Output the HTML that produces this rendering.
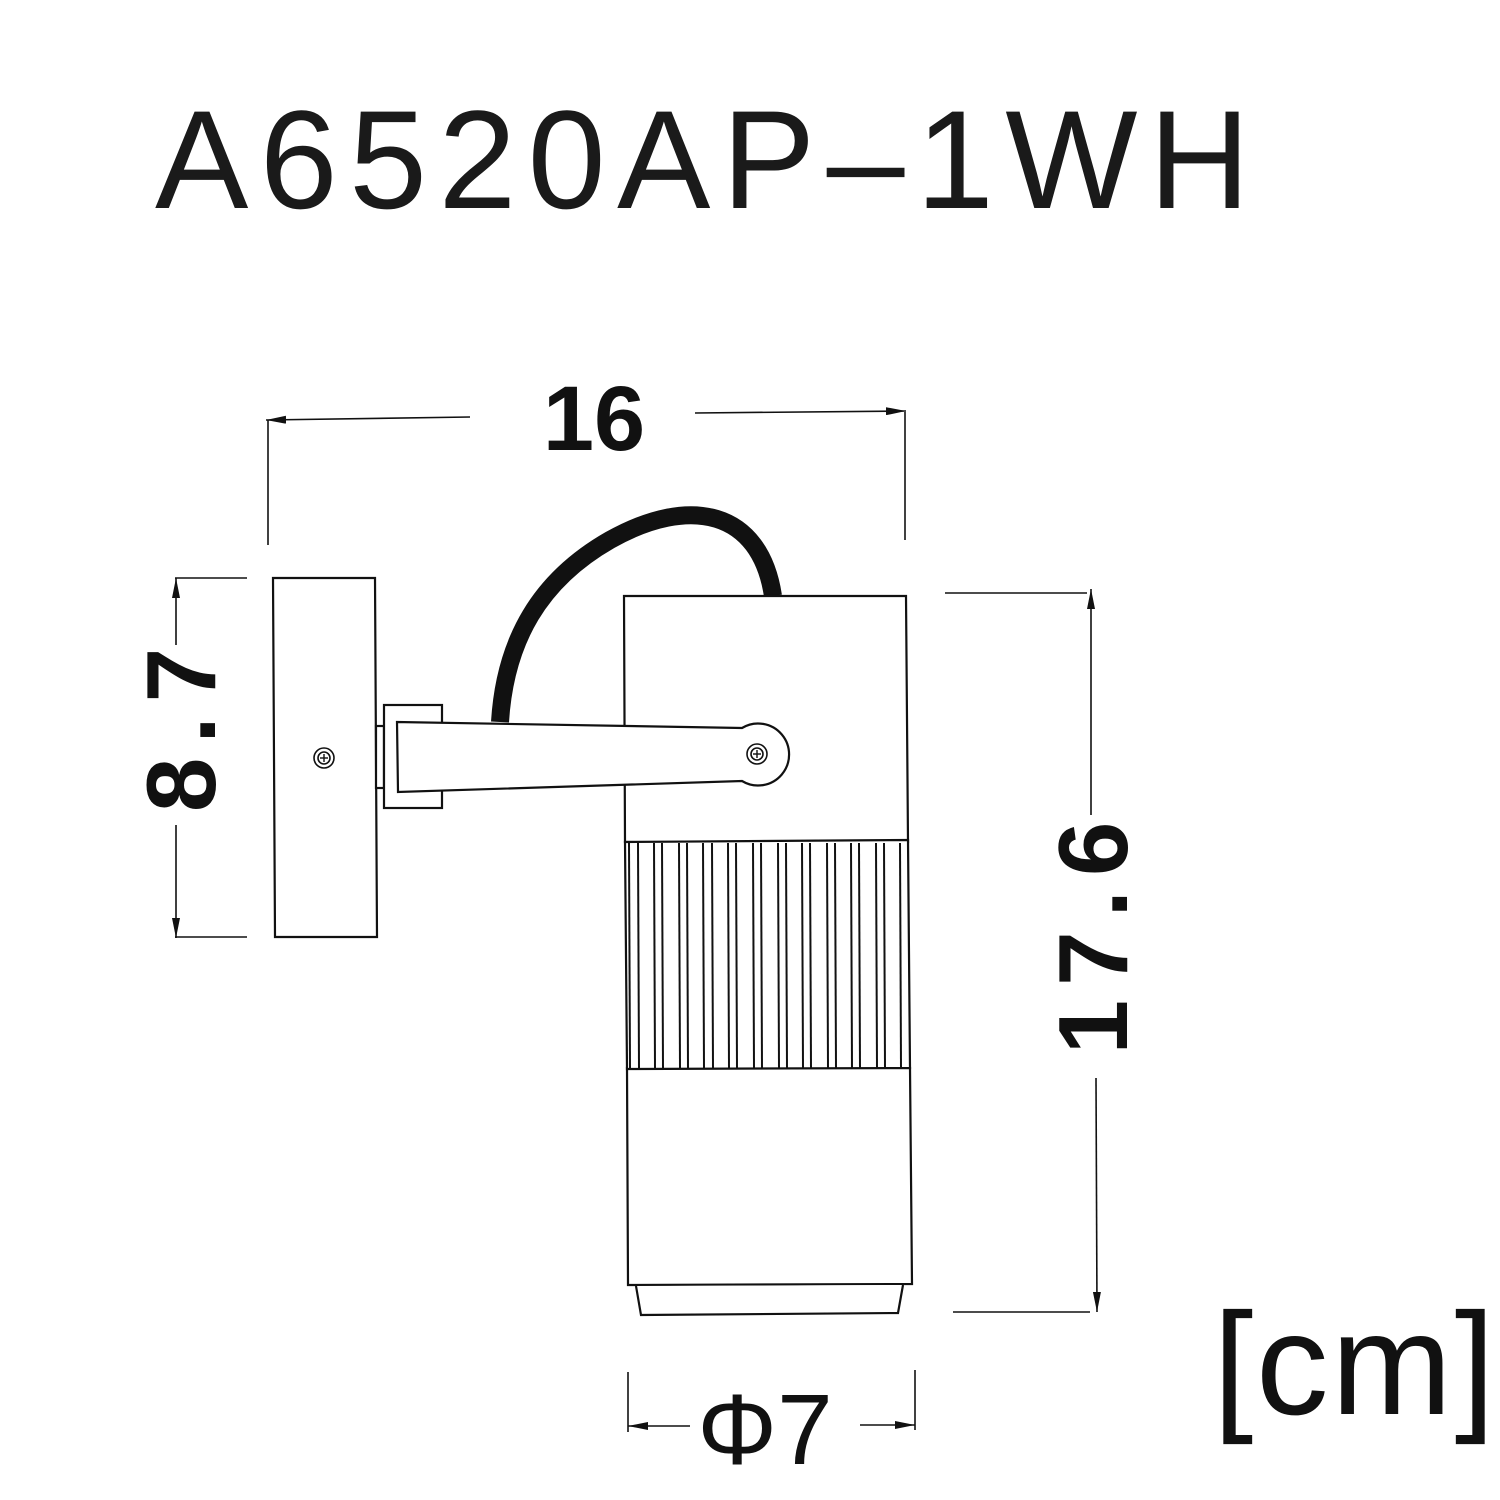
<!DOCTYPE html>
<html><head><meta charset="utf-8"><style>html,body{margin:0;padding:0;background:#fff}svg{display:block}</style></head>
<body>
<svg width="1500" height="1500" viewBox="0 0 1500 1500" xmlns="http://www.w3.org/2000/svg">
<defs>
<marker id="ar" viewBox="0 0 20 8" refX="20" refY="4" markerWidth="20" markerHeight="8" markerUnits="userSpaceOnUse" orient="auto">
<path d="M0,0 L20,4 L0,8 Z" fill="#111"/></marker>
</defs>
<rect width="1500" height="1500" fill="#fff"/>
<text x="155" y="208" font-family="Liberation Sans, sans-serif" font-size="140" fill="#1a1a1a" textLength="1095" lengthAdjust="spacing">A6520AP–1WH</text>

<g stroke="#111" stroke-width="1.6" fill="none">
<line x1="470" y1="417" x2="266" y2="420" marker-end="url(#ar)"/>
<line x1="695" y1="413" x2="906" y2="411" marker-end="url(#ar)"/>
<line x1="268" y1="420" x2="268" y2="545"/>
<line x1="905" y1="412" x2="905" y2="540"/>
<line x1="175" y1="578" x2="247" y2="578"/>
<line x1="175" y1="937" x2="247" y2="937"/>
<line x1="176" y1="645" x2="176" y2="578" marker-end="url(#ar)"/>
<line x1="176" y1="825" x2="176" y2="938" marker-end="url(#ar)"/>
<line x1="945" y1="593" x2="1087" y2="593"/>
<line x1="953" y1="1312" x2="1090" y2="1312"/>
<line x1="1091" y1="815" x2="1091" y2="589" marker-end="url(#ar)"/>
<line x1="1096" y1="1078" x2="1097" y2="1312" marker-end="url(#ar)"/>
<line x1="628" y1="1372" x2="628" y2="1432"/>
<line x1="915" y1="1370" x2="915" y2="1430"/>
<line x1="690" y1="1426" x2="628" y2="1426" marker-end="url(#ar)"/>
<line x1="860" y1="1425" x2="915" y2="1425" marker-end="url(#ar)"/>
</g>

<g stroke="#111" stroke-width="2.2" fill="#fff">
<polygon points="273,578 375,578 377,937 275,937"/>
<circle cx="324" cy="758" r="10" stroke-width="1.6"/>
<circle cx="324" cy="758" r="6" stroke-width="1.6"/>
<line x1="320" y1="758" x2="328" y2="758" stroke-width="1.4"/>
<line x1="324" y1="754" x2="324" y2="762" stroke-width="1.4"/>
<rect x="376" y="726" width="8" height="62"/>
<rect x="384" y="705" width="58" height="103"/>
</g>
<path d="M500,722 C505,640 540,580 610,540 C690,495 760,510 773,596" stroke="#111" stroke-width="18" fill="none"/>
<g stroke="#111" stroke-width="2.2" fill="#fff">
<polygon points="624,596 906,596 908,842 625,842"/>
<polygon points="627,1068 910,1068 912,1284 628,1285"/>
<path d="M636,1286 L641,1315 L898,1313 L903,1285" />
<polygon points="625,842 908,840 910,1068 627,1069"/>
</g>
<g stroke="#111" stroke-width="2">
<line x1="629" y1="843" x2="630" y2="1068"/><line x1="638" y1="843" x2="639" y2="1068"/>
<line x1="654" y1="843" x2="655" y2="1068"/><line x1="662" y1="843" x2="663" y2="1068"/>
<line x1="679" y1="843" x2="680" y2="1068"/><line x1="687" y1="843" x2="688" y2="1068"/>
<line x1="703" y1="843" x2="704" y2="1068"/><line x1="712" y1="843" x2="713" y2="1068"/>
<line x1="728" y1="843" x2="729" y2="1068"/><line x1="736" y1="843" x2="737" y2="1068"/>
<line x1="753" y1="843" x2="754" y2="1068"/><line x1="761" y1="843" x2="762" y2="1068"/>
<line x1="778" y1="843" x2="779" y2="1068"/><line x1="786" y1="843" x2="787" y2="1068"/>
<line x1="802" y1="843" x2="803" y2="1068"/><line x1="810" y1="843" x2="811" y2="1068"/>
<line x1="827" y1="843" x2="828" y2="1068"/><line x1="835" y1="843" x2="836" y2="1068"/>
<line x1="851" y1="843" x2="852" y2="1068"/><line x1="859" y1="843" x2="860" y2="1068"/>
<line x1="876" y1="843" x2="877" y2="1068"/><line x1="884" y1="843" x2="885" y2="1068"/>
<line x1="900" y1="843" x2="901" y2="1068"/>
</g>
<path d="M397,722 L742,728 A31,31 0 1 1 742,781 L398,792 Z" stroke="#111" stroke-width="2.2" fill="#fff"/>
<circle cx="757" cy="754" r="10" stroke="#111" stroke-width="1.6" fill="#fff"/>
<circle cx="757" cy="754" r="6" stroke="#111" stroke-width="1.6" fill="none"/>
<line x1="753" y1="754" x2="761" y2="754" stroke="#111" stroke-width="1.4"/>
<line x1="757" y1="750" x2="757" y2="758" stroke="#111" stroke-width="1.4"/>

<text x="594" y="450" text-anchor="middle" font-family="Liberation Sans, sans-serif" font-weight="bold" font-size="92" fill="#111">16</text>
<text transform="translate(215,723) rotate(-90)" text-anchor="middle" font-family="Liberation Sans, sans-serif" font-weight="bold" font-size="98" fill="#111" letter-spacing="14">8.7</text>
<text transform="translate(1127,931) rotate(-90)" text-anchor="middle" font-family="Liberation Sans, sans-serif" font-weight="bold" font-size="98" fill="#111" letter-spacing="14">17.6</text>
<text x="765" y="1464" text-anchor="middle" font-family="Liberation Sans, sans-serif" font-size="100" fill="#111">Φ7</text>
<text x="1213" y="1414" font-family="Liberation Sans, sans-serif" font-size="145" fill="#111" textLength="282" lengthAdjust="spacing">[cm]</text>
</svg>
</body></html>
